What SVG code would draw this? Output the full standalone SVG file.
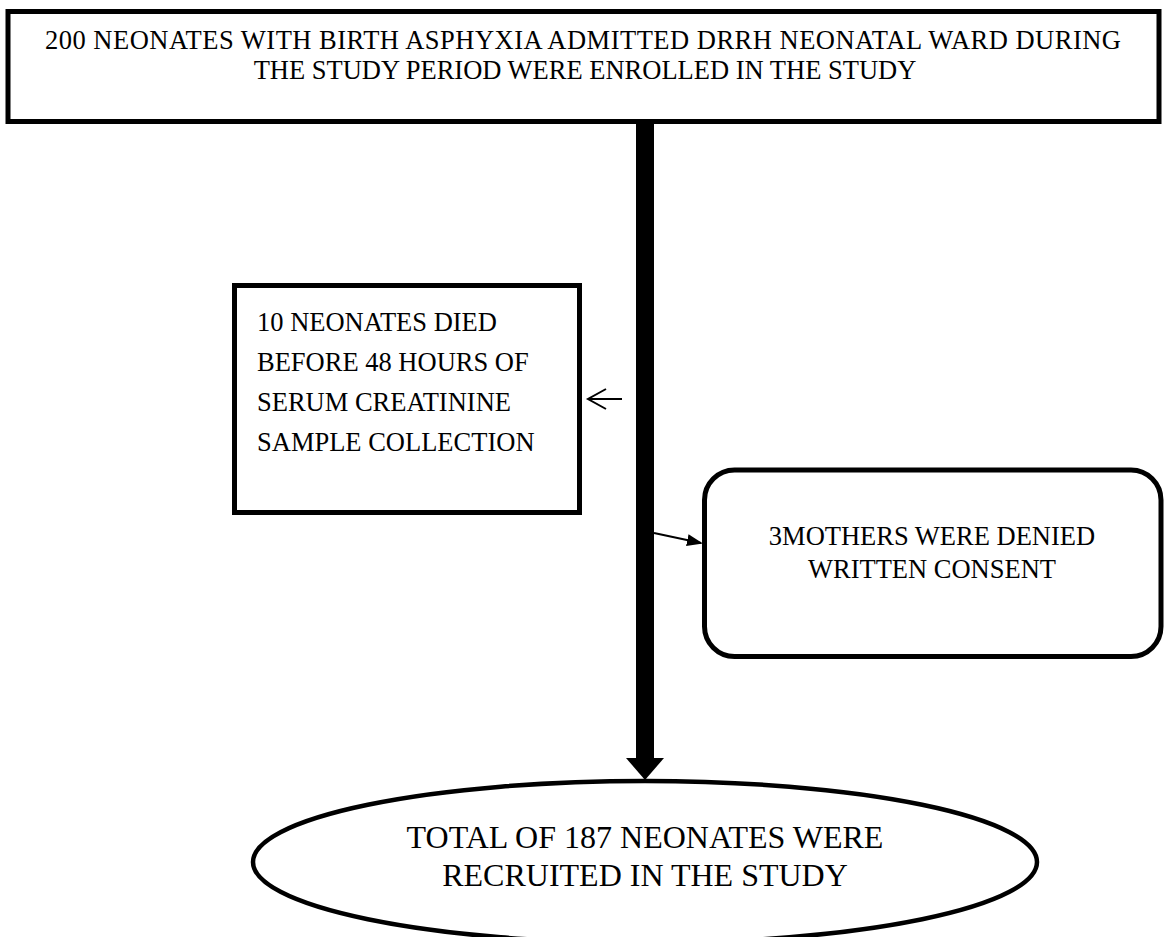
<svg xmlns="http://www.w3.org/2000/svg" width="1166" height="937" viewBox="0 0 1166 937">
<style>
.box{fill:#fff;stroke:#000;stroke-width:5}
.t{font-family:"Liberation Serif","Times New Roman",serif;fill:#000}
</style>
<defs>
<marker id="fill" markerWidth="8" markerHeight="6" refX="7" refY="3" orient="auto" markerUnits="strokeWidth">
<path d="M0,0 L8,3 L0,6 z" fill="#000"/>
</marker>
</defs>
<rect width="1166" height="937" fill="#fff"/>
<g id="enrolled">
<rect class="box" x="8" y="11.5" width="1151" height="110"/>
<text class="t" font-size="26.5" text-anchor="middle" x="583" y="49" textLength="1076" lengthAdjust="spacing">200 NEONATES WITH BIRTH ASPHYXIA ADMITTED DRRH NEONATAL WARD DURING</text>
<text class="t" font-size="26.5" text-anchor="middle" x="585" y="79">THE STUDY PERIOD WERE ENROLLED IN THE STUDY</text>
</g>
<g id="died">
<rect class="box" x="234.5" y="285.5" width="345" height="227"/>
<text class="t" font-size="26.5" x="257" y="331">10 NEONATES DIED</text>
<text class="t" font-size="26.5" x="257" y="371">BEFORE 48 HOURS OF</text>
<text class="t" font-size="26.5" x="257" y="411">SERUM CREATININE</text>
<text class="t" font-size="26.5" x="257" y="451">SAMPLE COLLECTION</text>
</g>
<g id="denied">
<rect class="box" x="704.5" y="470" width="456.5" height="186.5" rx="30"/>
<text class="t" font-size="26.5" text-anchor="middle" x="932" y="545">3MOTHERS WERE DENIED</text>
<text class="t" font-size="26.5" text-anchor="middle" x="932" y="578">WRITTEN CONSENT</text>
</g>
<g id="recruited">
<ellipse cx="645" cy="862" rx="392" ry="81" fill="#fff" stroke="#000" stroke-width="4.5"/>
<text class="t" font-size="32" text-anchor="middle" x="645" y="848">TOTAL OF 187 NEONATES WERE</text>
<text class="t" font-size="32" text-anchor="middle" x="645" y="886">RECRUITED IN THE STUDY</text>
</g>
<g id="connectors">
<rect x="636" y="124" width="18" height="635" fill="#000"/>
<polygon points="626,758 664,758 645,780" fill="#000"/>
<line x1="622" y1="399" x2="589" y2="399" stroke="#000" stroke-width="2"/>
<polyline points="606,389 588,399 606,409" fill="none" stroke="#000" stroke-width="2"/>
<line x1="654" y1="533" x2="701" y2="543" stroke="#000" stroke-width="2" marker-end="url(#fill)"/>
</g>
</svg>
